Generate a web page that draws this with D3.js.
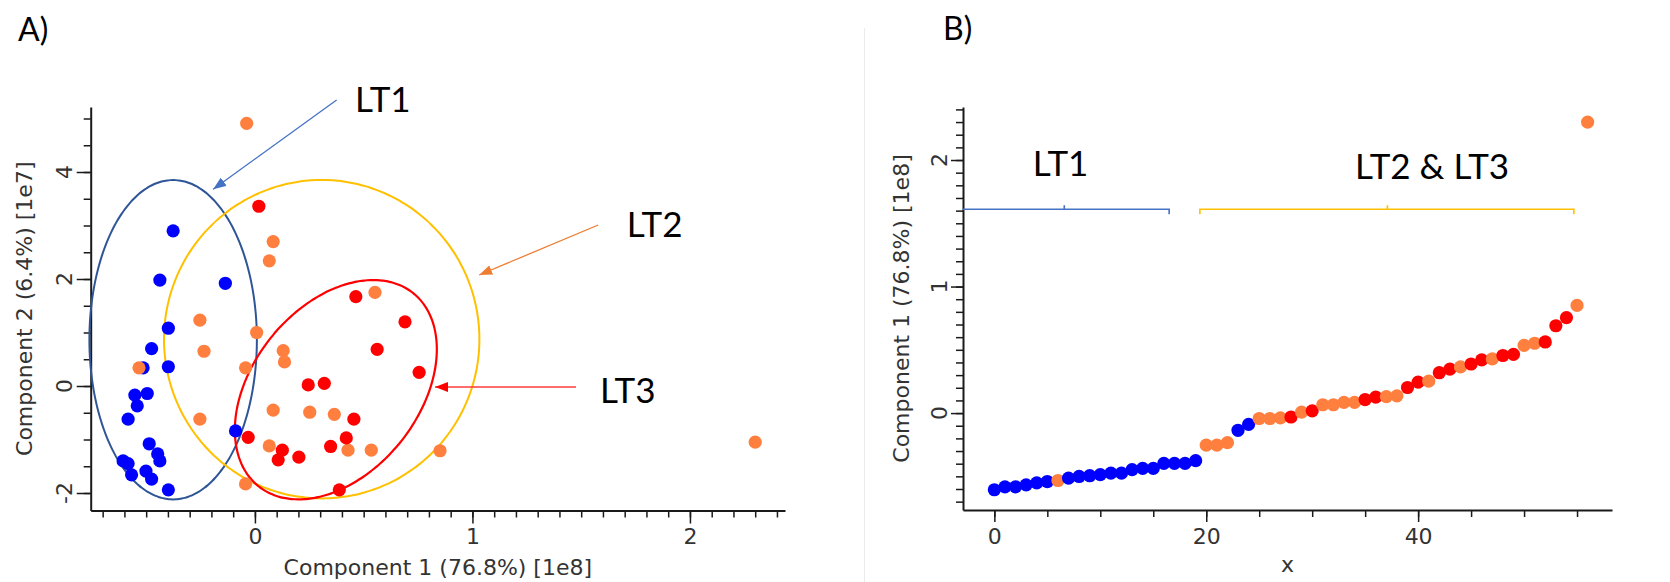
<!DOCTYPE html>
<html><head><meta charset="utf-8">
<script src="https://cdn.jsdelivr.net/npm/d3@7"></script>
<style>html,body{margin:0;padding:0;background:#fff}svg{display:block}</style>
</head><body>
<svg id="chart" width="1670" height="582"></svg>
<script>
// ---------- DATA ----------
// Panel A: Component 1 [1e8] (x) and Component 2 [1e7] (y) per group
const groups = ["LT1", "LT2", "LT3"];
const lt1X = [-0.376,-0.437,-0.136,-0.398,-0.475,-0.398,-0.514,-0.552,-0.495,-0.541,-0.583,-0.089,-0.486,-0.447,-0.437,-0.606,-0.583,-0.567,-0.501,-0.475,-0.398];
const lt1Y = [2.90,1.98,1.92,1.08,0.70,0.36,0.34,-0.17,-0.14,-0.37,-0.62,-0.84,-1.08,-1.27,-1.40,-1.40,-1.45,-1.66,-1.59,-1.74,-1.94];
const lt2X = [-0.038,0.084,0.066,-0.253,0.008,-0.234,0.130,0.136,-0.533,-0.043,0.552,-0.253,0.084,0.252,0.365,0.066,0.428,0.535,0.851,-0.043,2.300];
const lt2Y = [4.91,2.70,2.34,1.23,1.00,0.65,0.66,0.45,0.34,0.34,1.75,-0.62,-0.45,-0.49,-0.53,-1.12,-1.20,-1.20,-1.21,-1.83,-1.05];
const lt3X = [0.018,0.464,0.690,0.562,0.755,0.245,0.319,0.455,-0.031,0.420,0.348,0.126,0.107,0.202,0.388];
const lt3Y = [3.36,1.67,1.20,0.685,0.256,0.02,0.05,-0.62,-0.96,-0.97,-1.13,-1.20,-1.38,-1.33,-1.94];

// Tick labels
const aXTickLabels = [0, 1, 2];
const aYTickLabels = [-2, 0, 2, 4];
const bXTickLabels = [0, 20, 40];
const bYTickLabels = [0, 1, 2];

// ---------- STYLE / LAYOUT ----------
const colors = {LT1: "#0000FF", LT2: "#FF7F3F", LT3: "#FF0000"};
const axisFont = "DejaVu Sans";
const noteFont = "Lato, 'Open Sans', sans-serif";

// Panel A points
const aPoints = [];
[[lt1X, lt1Y, "LT1"], [lt2X, lt2Y, "LT2"], [lt3X, lt3Y, "LT3"]].forEach(([xs, ys, g]) => {
  xs.forEach((x, i) => aPoints.push({x, y: ys[i], g}));
});
// Panel B: Component 1 sorted ascending against rank
const bPoints = aPoints.slice().sort((a, b) => a.x - b.x).map((p, i) => ({i, v: p.x, g: p.g}));

const svg = d3.select("#chart");

const ax = d3.scaleLinear().domain([-0.755, 2.437]).range([90.7, 785]);
const ay = d3.scaleLinear().domain([-2.327, 5.215]).range([510.5, 107]);
const bx = d3.scaleLinear().domain([-2.96, 58.3]).range([963, 1612]);
const by = d3.scaleLinear().domain([-0.766, 2.419]).range([510, 107]);

function styleAxis(g, showDomain) {
  g.attr("font-family", axisFont).attr("font-size", 22);
  g.selectAll("path.domain").attr("stroke", "#1a1a1a").attr("stroke-width", 2).attr("display", showDomain ? null : "none");
  g.selectAll(".tick line").attr("stroke", "#1a1a1a").attr("stroke-width", 1.5);
  g.selectAll(".tick text").attr("fill", "#333");
}

// ---------- Annotations ----------
const aEllipses = [
  {cx: -0.376, cy: 0.865, ux: 0.385, uy: 0, vx: 0, vy: 2.985, color: "#2F5597", w: 2},
  {cx: 0.307, cy: 0.875, ux: 0.725, uy: 0, vx: 0, vy: 2.976, color: "#FFC000", w: 2},
  {cx: 0.372, cy: -0.069, ux: 0.3556, uy: 1.8045, vx: -0.2985, vy: 0.9723, color: "#FF0000", w: 2.2}
];
const aArrows = [
  {x1: 0.3756, y1: 5.346, x2: -0.192, y2: 3.677, color: "#4472C4", head: "#4472C4", id: "arrBlue"},
  {x1: 1.578, y1: 3.009, x2: 1.031, y2: 2.075, color: "#ED7D31", head: "#ED7D31", id: "arrOrange"},
  {x1: 1.476, y1: -0.019, x2: 0.828, y2: -0.019, color: "#FF3B3B", head: "#FF0000", id: "arrRed"}
];
const aNotes = [
  {text: "LT1", x: 0.46, y: 5.12},
  {text: "LT2", x: 1.71, y: 2.785},
  {text: "LT3", x: 1.586, y: -0.318}
];
const bBrackets = [
  {x1: -3.0, x2: 16.5, mid: 6.6, y: 1.611, color: "#4472C4", leftTick: false},
  {x1: 19.4, x2: 54.7, mid: 37.1, y: 1.611, color: "#FFC000", leftTick: true}
];
const bNotes = [
  {text: "LT1", x: 3.62, y: 1.875},
  {text: "LT2 & LT3", x: 34.04, y: 1.851}
];

// faint frame edge of the second picture
svg.append("line").attr("x1", 864.5).attr("x2", 864.5).attr("y1", 28).attr("y2", 582)
  .attr("stroke", "#ebebeb").attr("stroke-width", 1);

// markers
const defs = svg.append("defs");
aArrows.forEach(a => {
  defs.append("marker").attr("id", a.id).attr("viewBox", "0 0 13 10")
    .attr("refX", 13).attr("refY", 5).attr("markerWidth", 13).attr("markerHeight", 10)
    .attr("markerUnits", "userSpaceOnUse").attr("orient", "auto")
    .append("path").attr("d", "M0,0L13,5L0,10Z").attr("fill", a.head);
});

// ---------- PANEL A ----------
const gA = svg.append("g");
const aXMinor = d3.range(-7, 25).map(d => d / 10);
const aYMinor = d3.range(-4, 11).map(d => d / 2);
const xAxisA = gA.append("g").attr("transform", `translate(0,${ay.range()[0]})`);
xAxisA.append("g").call(d3.axisBottom(ax).tickValues(aXMinor).tickSize(7).tickSizeOuter(0).tickFormat(""))
  .call(g => styleAxis(g, false));
xAxisA.append("g").call(d3.axisBottom(ax).tickValues(aXTickLabels).tickSize(13).tickSizeOuter(0).tickPadding(5).tickFormat(d3.format("d")))
  .call(g => styleAxis(g, true));
const yAxisA = gA.append("g").attr("transform", `translate(${ax.range()[0]},0)`);
yAxisA.append("g").call(d3.axisLeft(ay).tickValues(aYMinor).tickSize(7).tickSizeOuter(0).tickFormat(""))
  .call(g => styleAxis(g, false));
yAxisA.append("g").call(d3.axisLeft(ay).tickValues(aYTickLabels).tickSize(14).tickSizeOuter(0).tickFormat(""))
  .call(g => styleAxis(g, true));
gA.selectAll("text.ylabA").data(aYTickLabels).join("text")
  .attr("transform", d => `translate(71.5,${ay(d)}) rotate(-90)`)
  .attr("text-anchor", "middle").attr("font-family", axisFont).attr("font-size", 22).attr("fill", "#333")
  .text(d => d);
gA.append("text").attr("x", (ax.range()[0] + ax.range()[1]) / 2).attr("y", 575)
  .attr("text-anchor", "middle").attr("font-family", axisFont).attr("font-size", 22).attr("fill", "#333")
  .text("Component 1 (76.8%) [1e8]");
gA.append("text").attr("transform", `translate(32,${(ay.range()[0] + ay.range()[1]) / 2}) rotate(-90)`)
  .attr("text-anchor", "middle").attr("font-family", axisFont).attr("font-size", 22).attr("fill", "#333")
  .text("Component 2 (6.4%) [1e7]");

// ellipses (centre + conjugate semi-axes in data units, through the scales)
const tSteps = d3.range(0, 360, 2).map(d => d * Math.PI / 180);
const ellLine = d3.line().x(p => ax(p[0])).y(p => ay(p[1])).curve(d3.curveCardinalClosed);
aEllipses.forEach(e => {
  const pts = tSteps.map(t => [e.cx + e.ux * Math.cos(t) + e.vx * Math.sin(t), e.cy + e.uy * Math.cos(t) + e.vy * Math.sin(t)]);
  gA.append("path").attr("d", ellLine(pts)).attr("fill", "none").attr("stroke", e.color).attr("stroke-width", e.w);
});

// points
gA.selectAll("circle.pa").data(aPoints).join("circle")
  .attr("cx", d => ax(d.x)).attr("cy", d => ay(d.y)).attr("r", 6.6)
  .attr("fill", d => colors[d.g]);

// arrows + notes
aArrows.forEach(a => {
  gA.append("line").attr("x1", ax(a.x1)).attr("y1", ay(a.y1)).attr("x2", ax(a.x2)).attr("y2", ay(a.y2))
    .attr("stroke", a.color).attr("stroke-width", 1.3).attr("marker-end", `url(#${a.id})`);
});
gA.selectAll("text.note").data(aNotes).join("text")
  .attr("x", d => ax(d.x)).attr("y", d => ay(d.y))
  .attr("font-family", noteFont).attr("font-size", 35).attr("fill", "#000").text(d => d.text);

// ---------- PANEL B ----------
const gB = svg.append("g");
const bXMinor = d3.range(0, 56, 5);
const bYMinor = d3.range(-7, 25).map(d => d / 10);
const xAxisB = gB.append("g").attr("transform", `translate(0,${by.range()[0]})`);
xAxisB.append("g").call(d3.axisBottom(bx).tickValues(bXMinor).tickSize(7).tickSizeOuter(0).tickFormat(""))
  .call(g => styleAxis(g, false));
xAxisB.append("g").call(d3.axisBottom(bx).tickValues(bXTickLabels).tickSize(12).tickSizeOuter(0).tickPadding(6).tickFormat(d3.format("d")))
  .call(g => styleAxis(g, true));
const yAxisB = gB.append("g").attr("transform", `translate(${bx.range()[0]},0)`);
yAxisB.append("g").call(d3.axisLeft(by).tickValues(bYMinor).tickSize(7).tickSizeOuter(0).tickFormat(""))
  .call(g => styleAxis(g, false));
yAxisB.append("g").call(d3.axisLeft(by).tickValues(bYTickLabels).tickSize(12).tickSizeOuter(0).tickFormat(""))
  .call(g => styleAxis(g, true));
gB.selectAll("text.ylabB").data(bYTickLabels).join("text")
  .attr("transform", d => `translate(947,${by(d)}) rotate(-90)`)
  .attr("text-anchor", "middle").attr("font-family", axisFont).attr("font-size", 22).attr("fill", "#333")
  .text(d => d);
gB.append("text").attr("x", (bx.range()[0] + bx.range()[1]) / 2).attr("y", 572)
  .attr("text-anchor", "middle").attr("font-family", axisFont).attr("font-size", 22).attr("fill", "#333").text("x");
gB.append("text").attr("transform", `translate(909,${(by.range()[0] + by.range()[1]) / 2}) rotate(-90)`)
  .attr("text-anchor", "middle").attr("font-family", axisFont).attr("font-size", 22).attr("fill", "#333")
  .text("Component 1 (76.8%) [1e8]");

// brackets
bBrackets.forEach(b => {
  const y0 = by(b.y);
  let d = `M${bx(b.x1)},${y0}H${bx(b.x2)}v5`;
  if (b.leftTick) d = `M${bx(b.x1)},${y0 + 5}V${y0}H${bx(b.x2)}v5`;
  d += `M${bx(b.mid)},${y0}v-4`;
  gB.append("path").attr("d", d).attr("fill", "none").attr("stroke", b.color).attr("stroke-width", 1.6);
});
gB.selectAll("text.note").data(bNotes).join("text")
  .attr("x", d => bx(d.x)).attr("y", d => by(d.y))
  .attr("font-family", noteFont).attr("font-size", 35).attr("fill", "#000").text(d => d.text);

// points
gB.selectAll("circle.pb").data(bPoints).join("circle")
  .attr("cx", d => bx(d.i)).attr("cy", d => by(d.v)).attr("r", 6.6)
  .attr("fill", d => colors[d.g]);

// panel titles
svg.append("text").attr("x", 18).attr("y", 41).attr("font-family", noteFont).attr("font-size", 32).text("A)");
svg.append("text").attr("x", 943).attr("y", 40).attr("font-family", noteFont).attr("font-size", 32).text("B)");
</script>
</body></html>
